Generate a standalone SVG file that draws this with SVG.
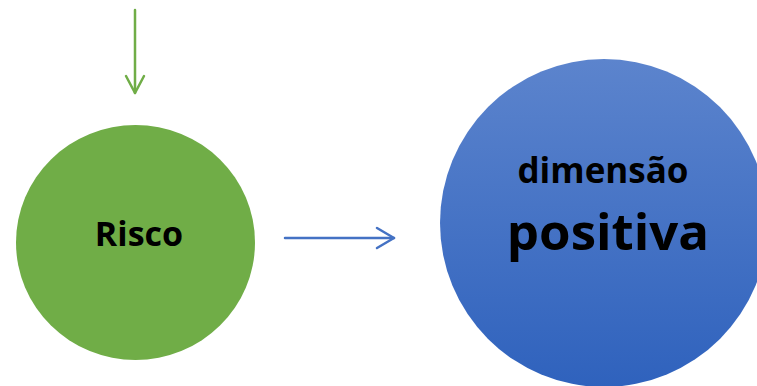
<svg xmlns="http://www.w3.org/2000/svg" width="757" height="386" viewBox="0 0 757 386">
  <defs>
    <linearGradient id="blueFill" x1="0" y1="0" x2="0" y2="1">
      <stop offset="0" stop-color="#5C84CD"/>
      <stop offset="1" stop-color="#2F62BD"/>
    </linearGradient>
    <style>
      .label { font-family: "Open Sans", "Liberation Sans", sans-serif; font-weight: bold; fill: #000; text-anchor: middle; }
      .conn { fill: none; stroke-width: 2.5; stroke-linecap: round; stroke-linejoin: round; }
    </style>
  </defs>
  <rect width="757" height="386" fill="#fff"/>

  <g id="connectors">
    <!-- arrow pointing down into Risco -->
    <g stroke="#70AD47" class="conn">
      <line x1="135" y1="10" x2="135" y2="93"/>
      <polyline points="126,76 135,93 144,76"/>
    </g>
    <!-- arrow from Risco toward the positive dimension -->
    <g stroke="#4472C4" class="conn" stroke-width="2">
      <line x1="285" y1="238" x2="394" y2="238"/>
      <polyline points="377,228 394,238 377,248"/>
    </g>
  </g>

  <g id="risco">
    <ellipse cx="135.5" cy="242.5" rx="119.5" ry="117.5" fill="#70AD47"/>
    <text class="label" x="139" y="246" font-size="34">Risco</text>
  </g>

  <g id="dimensao-positiva">
    <circle cx="604" cy="223" r="164" fill="url(#blueFill)"/>
    <text class="label" x="603" y="183" font-size="35">dimensão</text>
    <text class="label" x="608" y="250" font-size="51">positiva</text>
  </g>
</svg>
